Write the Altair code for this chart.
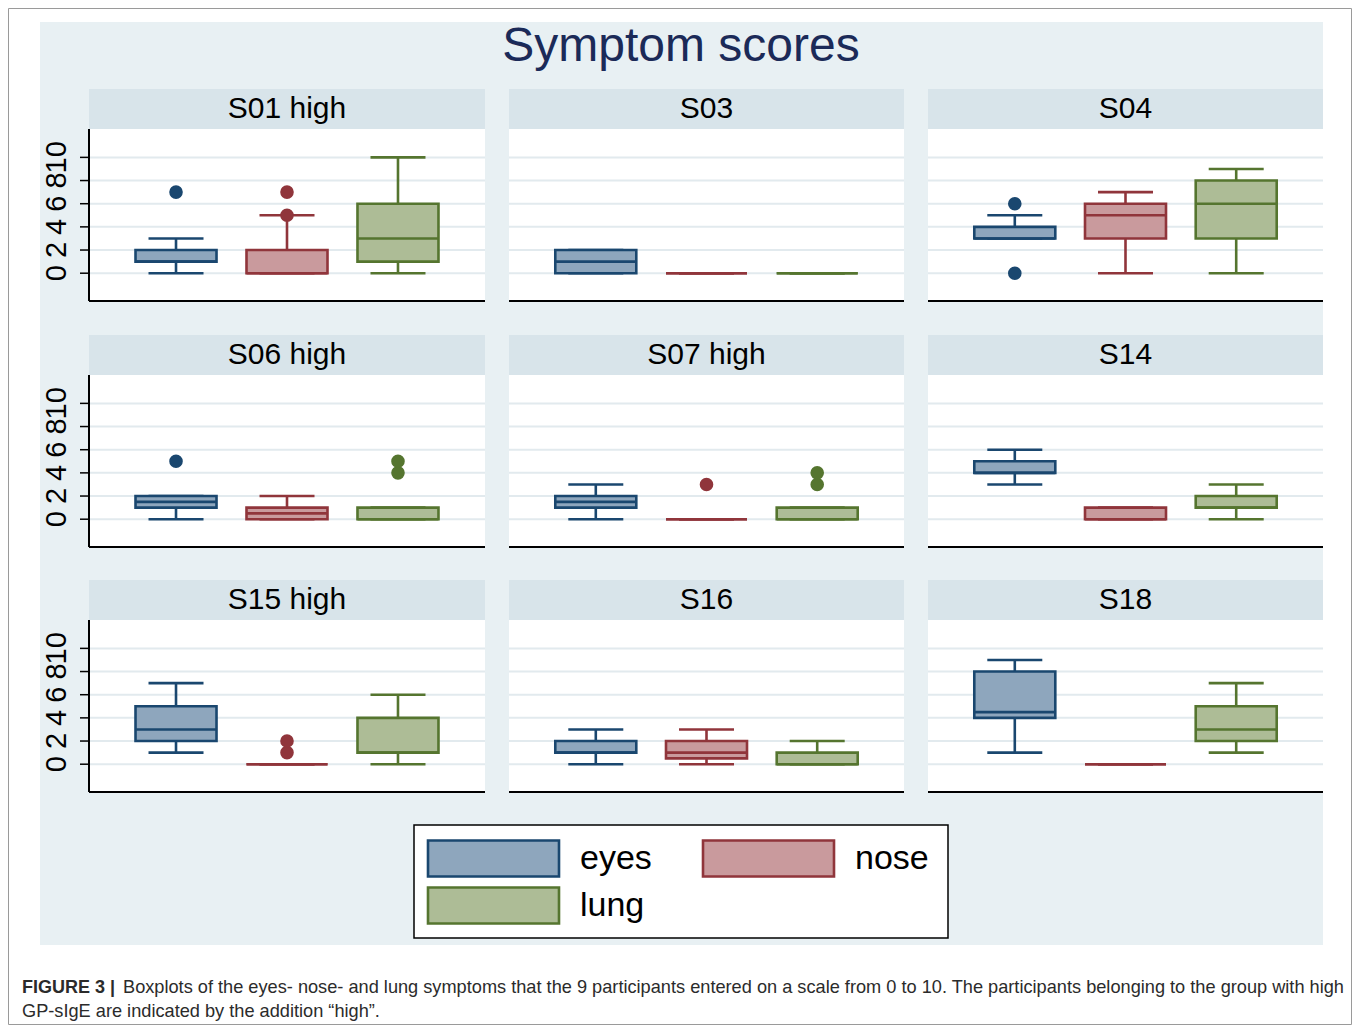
import altair as alt
import pandas as pd

# ---------------- data ----------------
panels = ["S01 high", "S03", "S04",
          "S06 high", "S07 high", "S14",
          "S15 high", "S16", "S18"]
groups = ["eyes", "nose", "lung"]

# per panel: [eyes, nose, lung]
whisk_lo = [[0, 0, 0], [0, 0, 0], [3, 0, 0], [0, 0, 0], [0, 0, 0], [3, 0, 0], [1, 0, 0], [0, 0, 0], [1, 0, 1]]
box_q1 = [[1, 0, 1], [0, 0, 0], [3, 3, 3], [1, 0, 0], [1, 0, 0], [4, 0, 1], [2, 0, 1], [1, 0.5, 0], [4, 0, 2]]
box_med = [[1, 0, 3], [1, 0, 0], [3, 5, 6], [1.5, 0.5, 0], [1.5, 0, 0], [4, 0, 1], [3, 0, 1], [1, 1, 0], [4.5, 0, 3]]
box_q3 = [[2, 2, 6], [2, 0, 0], [4, 6, 8], [2, 1, 1], [2, 0, 1], [5, 1, 2], [5, 0, 4], [2, 2, 1], [8, 0, 5]]
whisk_hi = [[3, 5, 10], [2, 0, 0], [5, 7, 9], [2, 2, 1], [3, 0, 1], [6, 1, 3], [7, 0, 6], [3, 3, 2], [9, 0, 7]]

out_panel = ["S01 high", "S01 high", "S01 high", "S04", "S04", "S06 high", "S06 high", "S06 high",
             "S07 high", "S07 high", "S07 high", "S15 high", "S15 high"]
out_group = ["eyes", "nose", "nose", "eyes", "eyes", "eyes", "lung", "lung",
             "nose", "lung", "lung", "nose", "nose"]
out_value = [7, 5, 7, 6, 0, 5, 4, 5, 3, 3, 4, 1, 2]

y_ticks = [0, 2, 4, 6, 8, 10]
legend_col = [0, 1, 0]
legend_row = [0, 0, 1]

title_text = "Symptom scores"
caption_bold = "FIGURE 3 |"
caption_line1 = ("Boxplots of the eyes- nose- and lung symptoms that the 9 participants entered on a scale "
                 "from 0 to 10. The participants belonging to the group with high")
caption_line2 = "GP-sIgE are indicated by the addition \u201chigh\u201d."

# ---------------- styles / layout ----------------
FONT = "Liberation Sans"
BLUE_BG = "#e8f0f3"
HEADER_BG = "#d8e4ea"
GRID = "#e2eaee"
TITLE_COL = "#1b2a58"
FRAME = "#9a9a9a"
group_dark = ["#1a476f", "#90353b", "#55752f"]
group_fill = ["#8ea6bd", "#c99a9d", "#adbc96"]

TOTAL_W, TOTAL_H = 1344, 1017
COL_L = [81, 501, 920]
COL_R = [477, 896, 1315]
HEAD_TOP = [81, 327, 572]
HEAD_H = 40
PLOT_H = 172
Y_DOMAIN = [-2.4, 12.45]
BOX_W = 81
CAP_W = 55
LW = 2.6

rows = []
for i, p in enumerate(panels):
    for j, g in enumerate(groups):
        rows.append(dict(panel=p, group=g, lo=whisk_lo[i][j], q1=box_q1[i][j],
                         med=box_med[i][j], q3=box_q3[i][j], hi=whisk_hi[i][j]))
box_df = pd.DataFrame(rows)
out_df = pd.DataFrame({"panel": out_panel, "group": out_group, "value": out_value})
tick_df = pd.DataFrame({"v": y_ticks})
one = pd.DataFrame({"a": [0]})

col_enc = alt.Color("group:N", scale=alt.Scale(domain=groups, range=group_dark), legend=None)
stroke_enc = alt.Stroke("group:N", scale=alt.Scale(domain=groups, range=group_dark), legend=None)
fill_enc = alt.Fill("group:N", scale=alt.Scale(domain=groups, range=group_fill), legend=None)


def deco_rect(x, x2, y, y2, fill, stroke="transparent", sw=0):
    return alt.Chart(one).mark_rect(fill=fill, stroke=stroke, strokeWidth=sw).encode(
        x=alt.value(x), x2=alt.value(x2), y=alt.value(y), y2=alt.value(y2))


def deco_rule(x, x2, y, y2, color, sw):
    return alt.Chart(one).mark_rule(color=color, strokeWidth=sw).encode(
        x=alt.value(x), x2=alt.value(x2), y=alt.value(y), y2=alt.value(y2))


def deco_text(txt, x, y, size, color="black", weight="normal", align="center"):
    return alt.Chart(one).mark_text(font=FONT, fontSize=size, color=color, fontWeight=weight,
                                    align=align, baseline="alphabetic").encode(
        text=alt.value(txt), x=alt.value(x), y=alt.value(y))


def panel(k):
    name = panels[k]
    r, c = divmod(k, 3)
    L, R = COL_L[c], COL_R[c]
    htop = HEAD_TOP[r]
    ptop = htop + HEAD_H
    pbot = ptop + PLOT_H

    xscale = alt.Scale(domain=groups, range=[L, R], paddingInner=0, paddingOuter=0.284)
    yscale = alt.Scale(domain=Y_DOMAIN, range=[pbot, ptop], nice=False, zero=False)

    def X():
        return alt.X("group:N", sort=groups, scale=xscale, axis=None)

    def Y(f):
        return alt.Y(f + ":Q", scale=yscale, axis=None)

    layers = [
        deco_rect(L, R, htop, ptop, HEADER_BG),
        deco_text(name, (L + R) / 2, htop + 29, 30),
        deco_rect(L, R, ptop, pbot, "white"),
        alt.Chart(tick_df).mark_rule(color=GRID, strokeWidth=2).encode(
            y=Y("v"), x=alt.value(L), x2=alt.value(R)),
    ]

    base = alt.Chart(box_df).transform_filter(alt.datum.panel == name)
    layers += [
        base.mark_rule(strokeWidth=LW).encode(x=X(), y=Y("lo"), y2=alt.Y2("hi:Q"), color=col_enc),
        base.transform_fold(["lo", "hi"], as_=["end", "val"]).mark_tick(
            size=CAP_W, thickness=LW, opacity=1).encode(x=X(), y=Y("val"), color=col_enc),
        base.mark_bar(size=BOX_W, strokeWidth=LW, opacity=1).encode(
            x=X(), y=Y("q1"), y2=alt.Y2("q3:Q"), fill=fill_enc, stroke=stroke_enc),
        base.mark_tick(size=BOX_W, thickness=LW, opacity=1).encode(x=X(), y=Y("med"), color=col_enc),
        alt.Chart(out_df).transform_filter(alt.datum.panel == name).mark_circle(
            size=185, opacity=1).encode(x=X(), y=Y("value"), color=col_enc),
        deco_rule(L, R, pbot, pbot, "black", 2),
    ]

    if c == 0:
        layers += [
            deco_rule(L, L, ptop, pbot, "black", 2),
            alt.Chart(tick_df).mark_rule(color="black", strokeWidth=1.5).encode(
                y=Y("v"), x=alt.value(L - 9), x2=alt.value(L)),
            alt.Chart(tick_df).mark_text(font=FONT, fontSize=29, color="black", angle=270,
                                         align="center", baseline="alphabetic").encode(
                y=Y("v"), x=alt.value(L - 23), text=alt.Text("v:Q")),
        ]
    return alt.layer(*layers)


# legend (own point scales)
legend_df = pd.DataFrame({"group": groups, "lcol": legend_col, "lrow": legend_row})
lx = alt.X("lcol:O", scale=alt.Scale(type="point", domain=[0, 1], range=[485.5, 760.5], padding=0), axis=None)
ly = alt.Y("lrow:O", scale=alt.Scale(type="point", domain=[0, 1], range=[850.5, 897.5], padding=0), axis=None)
legend_layer = alt.layer(
    deco_rect(406, 940, 817, 930, "white", "black", 1.5),
    alt.Chart(legend_df).mark_point(
        shape="M-1,-0.2748H1V0.2748H-1Z", size=17161, filled=True, strokeWidth=LW, opacity=1).encode(
        x=lx, y=ly, fill=fill_enc, stroke=stroke_enc),
    alt.Chart(legend_df).mark_text(
        font=FONT, fontSize=34, color="black", align="left", baseline="middle", dx=86.5).encode(
        x=lx, y=ly, text="group:N"),
)

background = [
    deco_rect(0.5, TOTAL_W - 0.5, 0.5, TOTAL_H - 0.5, "white", FRAME, 1),
    deco_rect(32, 1315, 14, 937, BLUE_BG),
    deco_text(title_text, 673, 53, 48, TITLE_COL),
]

caption = [
    deco_text(caption_bold, 14, 985, 18, "#2b2b2b", "bold", "left"),
    deco_text(caption_line1, 115, 985, 18.2, "#2b2b2b", "normal", "left"),
    deco_text(caption_line2, 14, 1009, 18.2, "#2b2b2b", "normal", "left"),
]

chart = alt.layer(
    *background,
    *[panel(k) for k in range(9)],
    legend_layer,
    *caption,
).resolve_scale(x="independent", y="independent").properties(
    width=TOTAL_W, height=TOTAL_H, padding=0, background="white"
).configure_view(strokeWidth=0).configure_text(font=FONT)

chart.save("out.html", embed_options={"renderer": "svg", "actions": False})
